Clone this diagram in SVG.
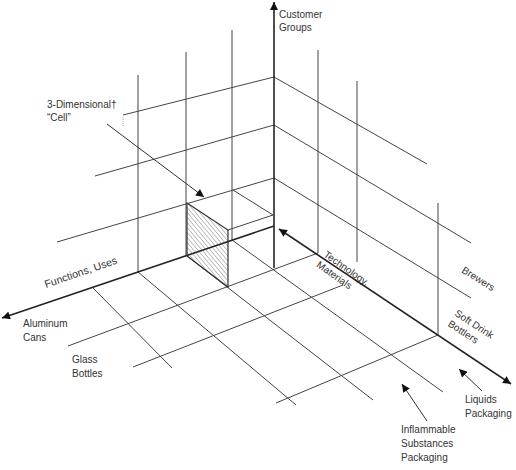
<svg xmlns="http://www.w3.org/2000/svg" width="516" height="470" viewBox="0 0 516 470">
<style>
.g{stroke:#444;stroke-width:1;fill:none}
.ax{stroke:#222;stroke-width:1.6;fill:none}
.co{stroke:#333;stroke-width:1;fill:none}
text{font-family:"Liberation Sans",Arial,sans-serif;font-size:10px;fill:#333}
</style>
<defs>
<marker id="ah" viewBox="0 0 10 10" refX="10" refY="5" markerWidth="9" markerHeight="8" markerUnits="userSpaceOnUse" orient="auto-start-reverse">
<path d="M0,0 L10,5 L0,10 z" fill="#111"/>
</marker>
<pattern id="hatch" width="3.2" height="10" patternUnits="userSpaceOnUse" patternTransform="rotate(-40)">
<line x1="0" y1="0" x2="0" y2="10" stroke="#555" stroke-width="0.8"/>
</pattern>
</defs>
<rect width="516" height="470" fill="#fff"/>
<g id="connectors">
<line class="g" x1="138" y1="75" x2="138" y2="272"/>
<line class="g" x1="186" y1="52" x2="186" y2="256"/>
<line class="g" x1="232" y1="30" x2="232" y2="241"/>
<line class="g" x1="274" y1="77" x2="123" y2="115"/>
<line x1="123" y1="117" x2="123" y2="126" stroke="#aaa" stroke-width="1" stroke-dasharray="1,1"/>
<line class="g" x1="274" y1="125" x2="95" y2="176"/>
<line class="g" x1="274" y1="178" x2="57" y2="242"/>
<line class="g" x1="318" y1="50" x2="318" y2="253"/>
<line class="g" x1="357" y1="81" x2="357" y2="262"/>
<line class="g" x1="438" y1="203" x2="438" y2="335"/>
<line class="g" x1="274" y1="77" x2="427" y2="164"/>
<line class="g" x1="274" y1="125" x2="471" y2="243"/>
<line class="g" x1="274" y1="178" x2="471" y2="298"/>
<line class="g" x1="318" y1="253" x2="68" y2="346"/>
<line class="g" x1="343" y1="285" x2="133" y2="367"/>
<line class="g" x1="438" y1="335" x2="276" y2="403"/>
<line class="g" x1="232" y1="240" x2="443" y2="392"/>
<line class="g" x1="187" y1="256" x2="373" y2="400"/>
<line class="g" x1="138" y1="272" x2="296" y2="405"/>
<line class="g" x1="93" y1="288" x2="172" y2="368"/>
<line class="ax" x1="274" y1="268" x2="274" y2="2" marker-end="url(#ah)"/>
<line class="ax" x1="274" y1="226" x2="2" y2="318" marker-end="url(#ah)"/>
<line class="ax" x1="279" y1="229" x2="511" y2="384" marker-start="url(#ah)" marker-end="url(#ah)"/>
<line class="co" x1="107" y1="124" x2="204" y2="197" marker-end="url(#ah)"/>
<line class="co" x1="427" y1="421" x2="402" y2="384" marker-end="url(#ah)"/>
<line class="co" x1="482" y1="391" x2="459" y2="369" marker-end="url(#ah)"/>
</g>
<g id="cell">
<polygon points="187,203 228,230 228,287 187,256" fill="url(#hatch)" stroke="#333" stroke-width="1.2"/>
<polyline class="g" points="233,190 273,215 228,230"/>
</g>
<g id="labels">
<text x="279" y="18">Customer</text>
<text x="279" y="31">Groups</text>
<text x="47" y="108">3-Dimensional†</text>
<text x="47" y="121">“Cell”</text>
<text transform="translate(46,288) rotate(-19)" style="font-size:10.6px">Functions, Uses</text>
<text x="23" y="327">Aluminum</text>
<text x="23" y="341">Cans</text>
<text x="72" y="363">Glass</text>
<text x="72" y="377">Bottles</text>
<g transform="translate(323,256) rotate(35)">
<text x="0" y="0">Technology,</text>
<text x="0" y="12.5">Materials</text>
</g>
<text transform="translate(461,272) rotate(32)">Brewers</text>
<g transform="translate(454,315) rotate(33)">
<text x="0" y="0">Soft Drink</text>
<text x="0" y="12.5">Bottlers</text>
</g>
<text x="401" y="433">Inflammable</text>
<text x="401" y="447">Substances</text>
<text x="401" y="461">Packaging</text>
<text x="465" y="403">Liquids</text>
<text x="465" y="417">Packaging</text>
</g>
</svg>
